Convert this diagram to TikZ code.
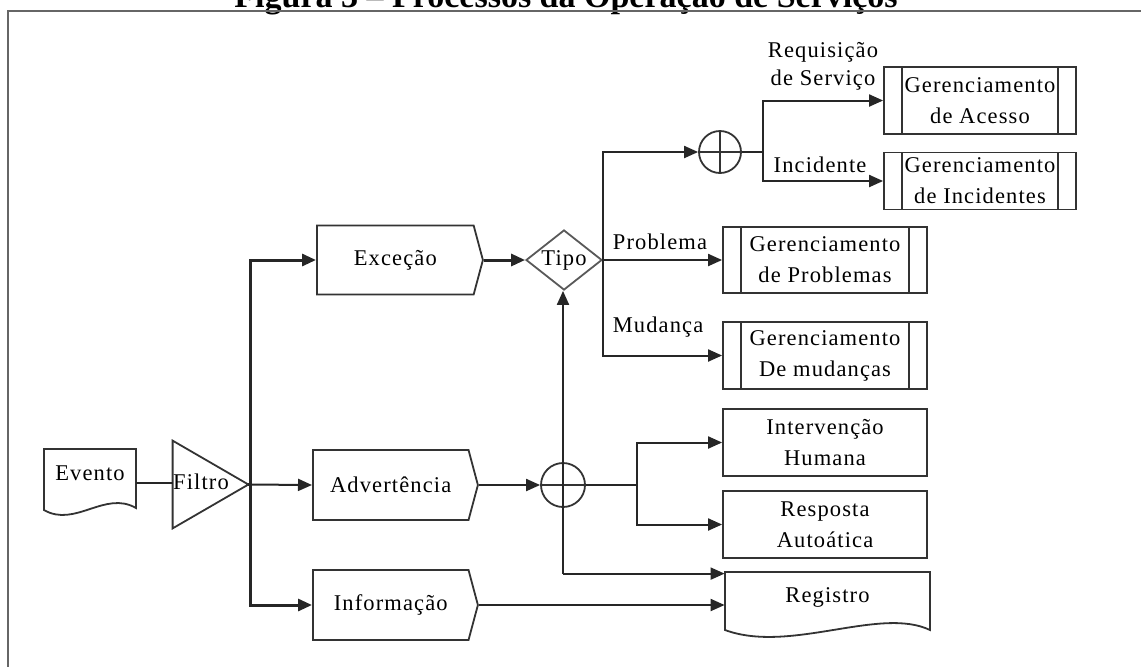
\documentclass[tikz,border=0pt]{standalone}
\usepackage{fontspec}
\setmainfont{Liberation Serif}
\newfontfamily\dgm{Liberation Serif}[LetterSpace=5]
\usetikzlibrary{shapes.geometric,shapes.symbols,arrows.meta,calc}

\begin{document}
\begin{tikzpicture}[x=0.5pt,y=-0.5pt,
  txt/.style={font=\dgm\fontsize{11.25}{15.5}\selectfont, align=center, inner sep=0pt},
  lbl/.style={txt, font=\dgm\fontsize{11.25}{14}\selectfont},
  outl/.style={draw=black!80, line width=0.9pt},
  conn/.style={draw=black!85, line width=1pt},
  heavy/.style={line width=1.5pt},
  arr/.style={conn, -{Triangle[length=7pt,width=6pt]}},
  proc/.style={txt, outl, rectangle, minimum width=102pt, minimum height=33.5pt},
  pproc/.style={proc, path picture={
      \draw[outl] ([xshift=9pt]path picture bounding box.north west) -- ([xshift=9pt]path picture bounding box.south west)
                  ([xshift=-9pt]path picture bounding box.north east) -- ([xshift=-9pt]path picture bounding box.south east);}},
  sig/.style={txt, outl, signal, signal to=east, signal from=nowhere, signal pointer angle=150,
      minimum width=83pt, minimum height=34.5pt, anchor=west},
  sumj/.style={circle, outl, inner sep=0pt, path picture={
      \draw[outl] (path picture bounding box.north) -- (path picture bounding box.south)
                  (path picture bounding box.west) -- (path picture bounding box.east);}},
  hold/.style={rectangle, draw=none, inner sep=0pt}
]
\useasboundingbox (0,0) rectangle (1141,666);
\clip (0,0) rectangle (1141,666);

% caption line above the frame, mostly outside the page
\node[anchor=base, inner sep=0pt, font=\bfseries\fontsize{17}{20}\selectfont] (title) at (566,7)
  {Figura 3 – Processos da Operação de Serviços};

% frame
\draw[draw=black!60, line width=1.1pt] (8,680) -- (8,11) -- (1160,11);

% event document
\node[hold, minimum width=46pt, minimum height=34pt, label={[txt, yshift=5pt]center:Evento}] (ev) at (90,483) {};
\draw[outl] (44,510) -- (44,449) -- (136,449) -- (136,508)
  .. controls (105,490) and (75,528) .. (44,510) -- cycle;

% filter
\node[hold, minimum width=37.5pt, minimum height=43.5pt] (fi) at (210.5,484.5) {};
\draw[outl] (fi.north west) -- (fi.east) -- (fi.south west) -- cycle;
\node[txt] (fitxt) at (201,482) {Filtro};

% event classes
\node[sig] (ex) at (316,260) {Exceção};
\node[sig, minimum width=82.5pt, minimum height=35pt] (ad) at (312,485) {Advertência};
\node[sig, minimum width=82.5pt, minimum height=35pt] (inf) at (312,605) {Informação};

% decision
\node[txt, diamond, draw=black!65, line width=0.9pt, minimum width=38pt, minimum height=30pt, aspect=1.25] (tp) at (564,260) {Tipo};

% junctions
\node[sumj, minimum size=21pt] (c1) at (720,152) {};
\node[sumj, minimum size=22pt] (c2) at (563,485) {};

% management processes
\node[pproc, minimum width=96pt] (ga) at (980,100.5) {Gerenciamento\\de Acesso};
\node[pproc, minimum width=96pt, minimum height=28.5pt] (gi) at (980,181) {Gerenciamento\\de Incidentes};
\node[pproc, minimum height=33pt] (pb) at (825,260) {Gerenciamento\\de Problemas};
\node[pproc] (mu) at (825,355.5) {Gerenciamento\\De mudanças};

% responses
\node[proc] (iv) at (825,442.5) {Intervenção\\Humana};
\node[proc] (rs) at (825,524.5) {Resposta\\Autoática};

% log document
\node[hold, minimum width=102.5pt, minimum height=29pt, label={[txt, yshift=2pt]center:Registro}] (rg) at (827.5,601) {};
\draw[outl] (725,630) -- (725,572) -- (930,572) -- (930,630)
  .. controls (880,606) and (790,654) .. (725,630) -- cycle;

% branch labels
\node[lbl] (lreq) at (823,66) {Requisição\\de Serviço};
\node[lbl] (linc) at (820,165) {Incidente};
\node[lbl] (lpb) at (660,242) {Problema};
\node[lbl] (lmu) at (658,327) {Mudança};

% connectors
\draw[conn] (ev.east) -- (ev.east -| fi.west);
\draw[arr, heavy] (fi.east) -- ++(2,0) |- (ex.west);
\draw[arr] (fi.east) -- (ad.west);
\draw[arr, heavy] (fi.east) -- ++(2,0) |- (inf.west);

\draw[arr, heavy] (ex.east) -- (tp.west);
\draw[arr] (tp.east) -- (pb.west);
\draw[arr] (tp.east) |- (c1.west);
\draw[arr] (tp.east) |- (mu.west);

\coordinate (s1) at (763,152);
\draw[conn] (c1.east) -- (s1);
\draw[arr] (s1) |- (ga.west);
\draw[arr] (s1) |- (gi.west);

\draw[arr] (ad.east) -- (c2.west);
\coordinate (s2) at (637,485);
\draw[conn] (c2.east) -- (s2);
\draw[arr] (s2) |- (iv.west);
\draw[arr] (s2) |- (rs.west);

\coordinate (rgin) at ($(rg.north west)+(0,2)$);
\draw[arr] (c2 |- rgin) -- (rgin);
\draw[arr] (c2 |- rgin) -- (c2 |- tp.south);
\draw[arr] (inf.east) -- (inf.east -| rg.west);
\end{tikzpicture}
\end{document}
